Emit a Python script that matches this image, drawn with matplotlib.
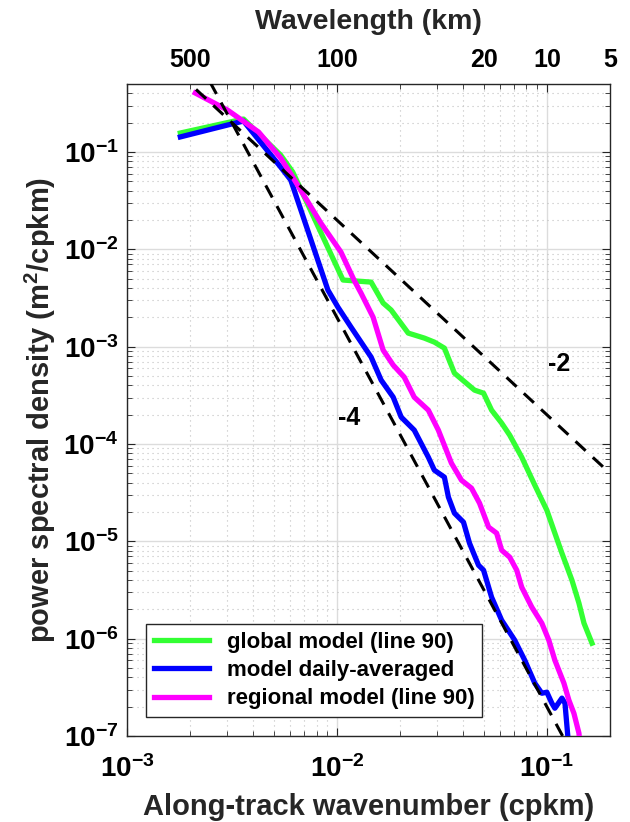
import numpy as np
import matplotlib
matplotlib.use('Agg')
import matplotlib.pyplot as plt
from matplotlib.ticker import FixedLocator, FuncFormatter, LogLocator, NullFormatter

plt.rcParams['font.family'] = ['Liberation Sans', 'DejaVu Sans']
plt.rcParams['font.weight'] = 'bold'
plt.rcParams['mathtext.fontset'] = 'custom'
plt.rcParams['mathtext.bf'] = 'Liberation Sans:bold'
plt.rcParams['mathtext.rm'] = 'Liberation Sans:bold'
plt.rcParams['mathtext.default'] = 'bf'

# ---------------- data ----------------
k_global = [0.001795, 0.003589, 0.005395, 0.006159, 0.01069, 0.01455, 0.0166, 0.01813,
            0.02186, 0.02608, 0.02911, 0.0325, 0.03629, 0.04523, 0.04995, 0.05455,
            0.06091, 0.06652, 0.07592, 0.08762, 0.1, 0.1092, 0.1180, 0.1317, 0.1422,
            0.1503, 0.1641]
psd_global = [0.1568, 0.2183, 0.0931, 0.0623, 0.00484, 0.00461, 0.00281, 0.00238,
              0.00138, 0.001226, 0.001115, 0.000967, 0.000535, 0.000358, 0.000333, 0.000223,
              0.000164, 0.0001235, 7.33e-5, 3.78e-5, 2.09e-5, 1.214e-5, 7.56e-6, 3.99e-6, 2.32e-6,
              1.443e-6, 8.99e-7]

k_daily = [0.001795, 0.003589, 0.005395, 0.006026, 0.009057, 0.01011, 0.01167, 0.01455,
           0.01624, 0.01854, 0.02024, 0.02335, 0.02725, 0.02911, 0.0325, 0.03397, 0.03629,
           0.04008, 0.04281, 0.04726, 0.04995, 0.05455, 0.06091, 0.07029, 0.07846, 0.08762,
           0.09465, 0.1, 0.1057, 0.1092, 0.1180, 0.1220, 0.1260, 0.1270]
psd_daily = [0.143, 0.2083, 0.0701, 0.0516, 0.00382, 0.00255, 0.00159, 0.000782,
             0.000454, 0.000303, 0.000189, 0.000139, 7.33e-5, 5.39e-5, 4.57e-5, 2.85e-5, 1.95e-5,
             1.575e-5, 9.58e-6, 5.69e-6, 5.06e-6, 2.67e-6, 1.549e-6, 9.65e-7, 6.01e-7, 3.49e-7,
             2.75e-7, 2.82e-7, 2.17e-7, 1.93e-7, 2.45e-7, 2.17e-7, 9.7e-8, 6e-8]

k_regional = [0.002115, 0.003010, 0.004235, 0.005395, 0.006159, 0.008381, 0.01045, 0.01206,
              0.01302, 0.01487, 0.0166, 0.01854, 0.02092, 0.02335, 0.02725, 0.03042, 0.03511,
              0.03920, 0.04376, 0.04779, 0.05278, 0.05765, 0.06091, 0.06652, 0.07186, 0.07592,
              0.08477, 0.09465, 0.1022, 0.1092, 0.1206, 0.1274, 0.1346, 0.1422, 0.1450]
psd_regional = [0.404, 0.2702, 0.1605, 0.0868, 0.0553, 0.01864, 0.00938, 0.00484,
                0.00356, 0.00201, 0.000923, 0.000647, 0.000487, 0.000303, 0.000223, 0.000139, 6.36e-5,
                4.25e-5, 3.52e-5, 2.47e-5, 1.40e-5, 1.214e-5, 8.12e-6, 6.88e-6, 5.06e-6, 3.38e-6,
                2.11e-6, 1.443e-6, 9.65e-7, 6.01e-7, 3.49e-7, 2.33e-7, 1.71e-7, 1.07e-7, 7e-8]

labels = ['global model (line 90)', 'model daily-averaged', 'regional model (line 90)']
colors = ['#33ff33', '#0000ff', '#ff00ff']

slope2_coef = 2e-6     # P = c * k^-2
slope4_coef = 2e-11    # P = c * k^-4

wavelength_ticks = [500, 100, 20, 10, 5]
x_ticks = [1e-3, 1e-2, 1e-1]
y_ticks = [1e-7, 1e-6, 1e-5, 1e-4, 1e-3, 1e-2, 1e-1]

# ---------------- figure ----------------
fig = plt.figure(figsize=(6.3, 8.22), dpi=100)
ax = fig.add_axes([0.2016, 0.1046, 0.7667, 0.7932])
ax.set_xscale('log')
ax.set_yscale('log')
ax.set_xlim(1e-3, 0.2)
ax.set_ylim(1e-7, 0.5)

for kk, pp, lab, c in zip([k_global, k_daily, k_regional],
                          [psd_global, psd_daily, psd_regional], labels, colors):
    ax.plot(kk, pp, color=c, lw=3.8, label=lab, zorder=3, solid_joinstyle='round')

kline = np.logspace(-3, np.log10(0.2), 200)
ax.plot(kline, slope2_coef * kline ** -2, color='k', lw=2.2, ls=(0, (4.5, 3.2)), zorder=4)
ax.plot(kline, slope4_coef * kline ** -4, color='k', lw=2.2, ls=(0, (4.5, 3.2)), zorder=4)

ax.text(0.115, 6.7e-4, '-2', fontsize=18, fontweight='bold', ha='center', va='center')
ax.text(0.0114, 1.86e-4, '-4', fontsize=18, fontweight='bold', ha='center', va='center')

fmt = FuncFormatter(lambda v, p: r'$\mathbf{10^{%d}}$' % int(round(np.log10(v))))
ax.xaxis.set_major_locator(FixedLocator(x_ticks))
ax.yaxis.set_major_locator(FixedLocator(y_ticks))
ax.xaxis.set_major_formatter(fmt)
ax.yaxis.set_major_formatter(fmt)
ax.xaxis.set_minor_locator(LogLocator(base=10, subs=np.arange(2, 10), numticks=20))
ax.yaxis.set_minor_locator(LogLocator(base=10, subs=np.arange(2, 10), numticks=20))
ax.xaxis.set_minor_formatter(NullFormatter())
ax.yaxis.set_minor_formatter(NullFormatter())

ax.tick_params(which='both', direction='in', top=True, right=True, labelsize=20, colors='#262626')
ax.tick_params(which='major', length=6, width=0.8)
ax.tick_params(which='minor', length=3.5, width=0.6)
ax.tick_params(axis='x', which='major', pad=14)
ax.tick_params(axis='y', which='major', pad=6)
for lab in ax.get_xticklabels() + ax.get_yticklabels():
    lab.set_color('black')

ax.grid(True, which='major', color='#dcdcdc', lw=1.0, ls='-')
ax.grid(True, which='minor', color='#c0c0c0', lw=0.8, ls=(0, (1, 3.5)))
ax.set_axisbelow(True)
for s in ax.spines.values():
    s.set_color('#262626')
    s.set_linewidth(1.0)

ax.set_xlabel('Along-track wavenumber (cpkm)', fontsize=21, fontweight='bold', color='#262626', labelpad=7)
ax.set_ylabel('power spectral density (m$^2$/cpkm)', fontsize=21, fontweight='bold', color='#262626', labelpad=4)

sec = ax.secondary_xaxis('top', functions=(lambda k: 1.0 / np.maximum(k, 1e-12), lambda w: 1.0 / np.maximum(w, 1e-12)))
sec.set_xticks(wavelength_ticks)
sec.set_xticklabels([str(w) for w in wavelength_ticks])
sec.xaxis.set_minor_locator(FixedLocator([]))
sec.tick_params(length=0, labelsize=18, pad=8.5)
sec.spines['top'].set_visible(False)
sec.set_xlabel('Wavelength (km)', fontsize=20.5, fontweight='bold', color='#262626', labelpad=14)

leg = ax.legend(loc='lower left', bbox_to_anchor=(0.039, 0.029), borderaxespad=0,
                fontsize=16, fancybox=False, framealpha=1, edgecolor='#262626',
                handlelength=2.5, labelspacing=0.33, borderpad=0.35, handletextpad=0.8)
leg.get_frame().set_linewidth(1.0)
for t in leg.get_texts():
    t.set_fontweight('bold')

fig.savefig('out.png', dpi=100)
